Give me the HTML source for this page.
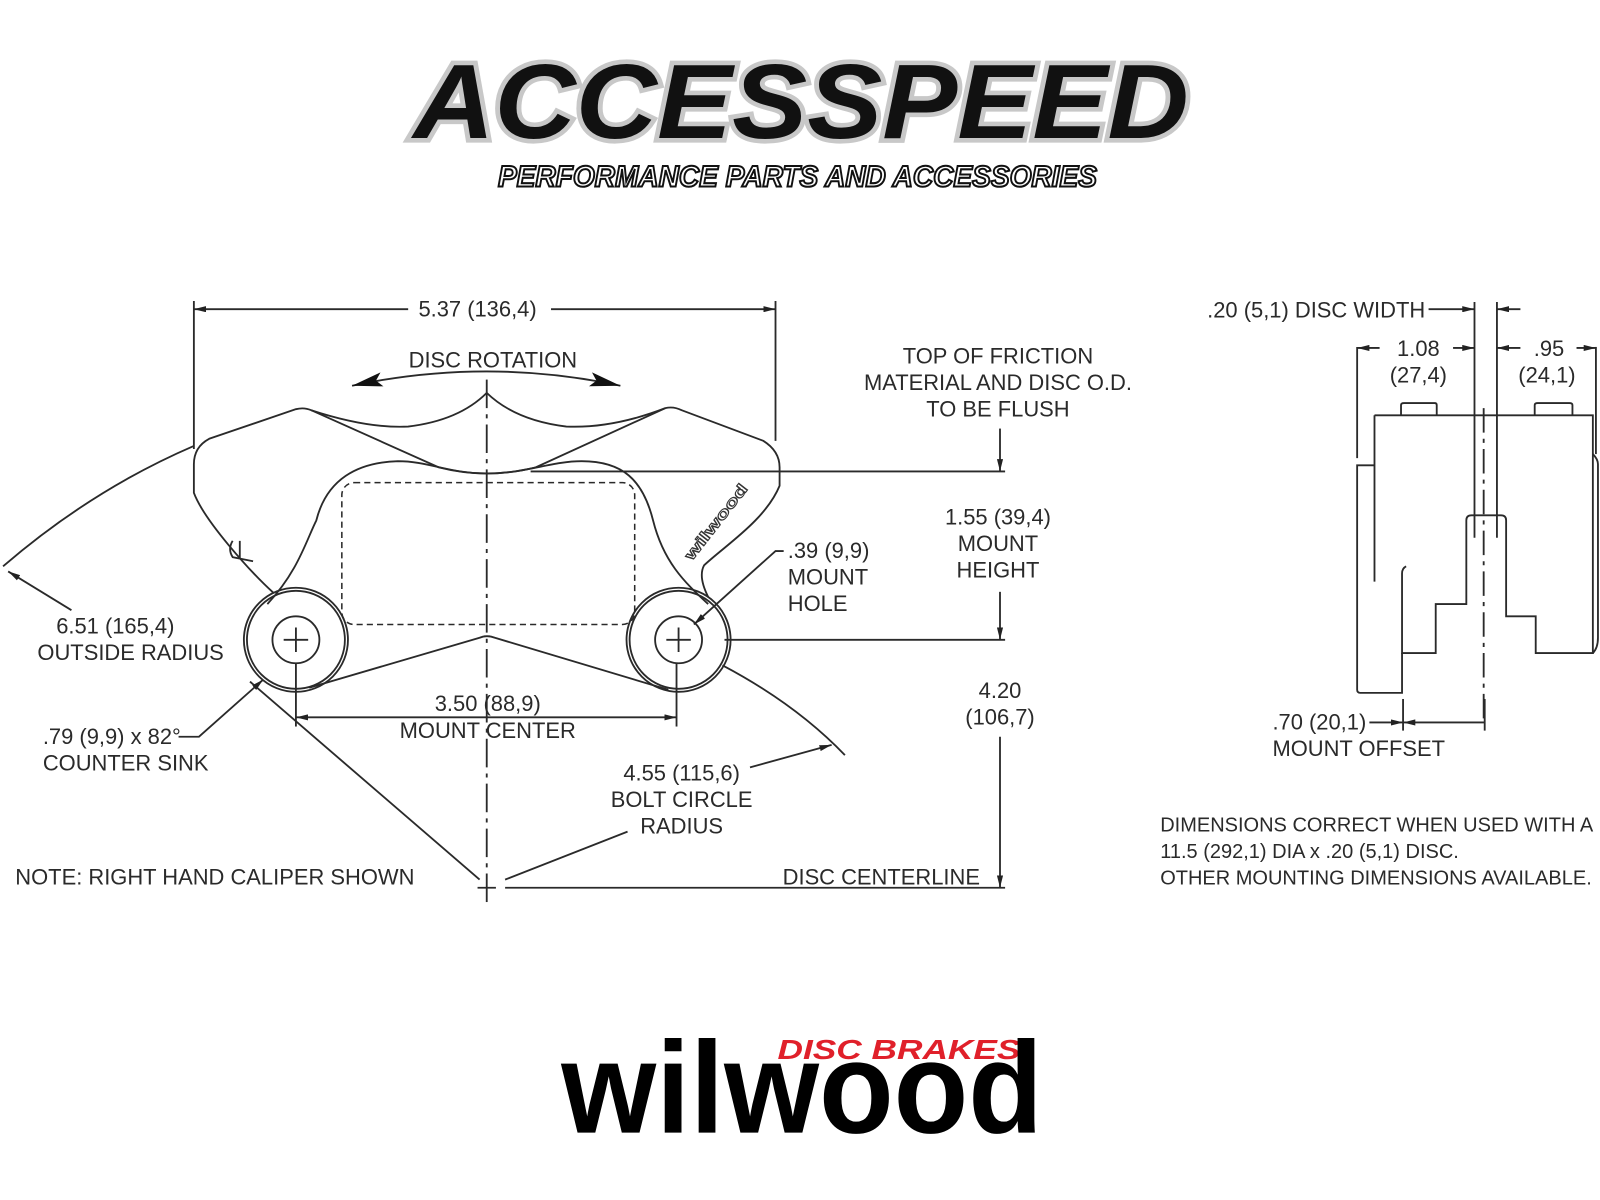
<!DOCTYPE html>
<html><head><meta charset="utf-8"><style>
html,body{margin:0;padding:0;background:#fff;}
svg{display:block;}
text{font-family:"Liberation Sans",Arial,sans-serif;fill:#2a2a2a;}
</style></head><body>
<svg width="1600" height="1200" viewBox="0 0 1568 1176" xmlns="http://www.w3.org/2000/svg">
<defs>
<marker id="a" viewBox="0 0 12 6" refX="12" refY="3" markerWidth="12" markerHeight="6" orient="auto-start-reverse" markerUnits="userSpaceOnUse"><path d="M0,0 L12,3 L0,6 z" fill="#222"/></marker>
<marker id="b" viewBox="0 0 30 14" refX="30" refY="7" markerWidth="30" markerHeight="14" orient="auto-start-reverse" markerUnits="userSpaceOnUse"><path d="M0,0 L30,7 L0,14 L6,7 z" fill="#111"/></marker>
</defs>

<text x="405" y="135" font-size="104" font-weight="bold" font-style="italic" textLength="760" lengthAdjust="spacingAndGlyphs" style="fill:#111;stroke:#c8c8c8;stroke-width:9;paint-order:stroke;">ACCESSPEED</text>
<text x="488" y="183" font-size="29" font-weight="bold" font-style="italic" textLength="587" lengthAdjust="spacingAndGlyphs" style="fill:#fff;stroke:#111;stroke-width:2;">PERFORMANCE PARTS AND ACCESSORIES</text>

<g fill="none" stroke="#2a2a2a" stroke-width="1.8">
<line x1="477" y1="372" x2="477" y2="885" stroke-dasharray="28,6,4,6"/>
<line x1="468" y1="870" x2="486" y2="870"/>

<path d="M268,581 C245,560 200,510 190,483 L190,455 Q190,438 205,430 L290,401 Q298,399 305,402 Q360,420 400,418 Q450,412 477,385 Q505,412 555,418 Q600,420 652,400 Q660,398 668,402 L748,432 Q764,442 764,458 L764,476 C750,510 710,535 690,554 Q684,565 694,585"/>
<path d="M303,674 L470,625 Q477,622 485,625 L655,676"/>
<path d="M262,592 C292,560 300,530 310,510 C320,470 350,453 390,452 C420,452 440,464 477,464 C515,464 540,452 570,452 C610,452 630,470 640,510 C650,550 670,570 694,592"/>
<path d="M305,402 L430,458 Q477,470 525,458 L652,400"/>
<rect x="335" y="473" width="287" height="139" rx="12" stroke-dasharray="6,4" stroke-width="1.5"/>
<circle cx="290" cy="627" r="48"/><circle cx="290" cy="627" r="51"/>
<circle cx="290" cy="627" r="23"/>
<circle cx="665" cy="627" r="48"/><circle cx="665" cy="627" r="51"/>
<circle cx="665" cy="627" r="23"/>
<path d="M278,627h24M290,615v24M653,627h24M665,615v24"/>
<path d="M228,530 q-5,8 0,16 l20,4 M235,530 v18"/>

<line x1="190" y1="295" x2="190" y2="440"/><line x1="760" y1="295" x2="760" y2="432"/>
<line x1="190" y1="303" x2="400" y2="303" marker-start="url(#a)"/>
<line x1="540" y1="303" x2="760" y2="303" marker-end="url(#a)"/>
<path d="M345,378 Q477,350 608,378" marker-start="url(#b)" marker-end="url(#b)"/>

<line x1="520" y1="462" x2="985" y2="462"/>
<line x1="710" y1="627" x2="985" y2="627"/>
<line x1="980" y1="420" x2="980" y2="462" marker-end="url(#a)"/>
<line x1="980" y1="580" x2="980" y2="627" marker-end="url(#a)"/>
<line x1="980" y1="722" x2="980" y2="870" marker-end="url(#a)"/>
<line x1="495" y1="870" x2="985" y2="870"/>

<line x1="290" y1="650" x2="290" y2="712"/><line x1="663" y1="650" x2="663" y2="712"/>
<line x1="290" y1="703" x2="663" y2="703" marker-start="url(#a)" marker-end="url(#a)"/>

<path d="M3,555 Q90,480 190,437"/>
<path d="M708,652 Q780,690 828,740"/>
<line x1="70" y1="598" x2="8" y2="560" marker-end="url(#a)"/>
<line x1="245" y1="668" x2="470" y2="862"/>
<line x1="495" y1="862" x2="615" y2="815"/>
<line x1="735" y1="752" x2="815" y2="730" marker-end="url(#a)"/>
<path d="M175,722 L195,722 L258,666" marker-end="url(#a)"/>
<path d="M768,540 L760,540 L680,612" marker-end="url(#a)"/>

<line x1="1330" y1="340" x2="1330" y2="449"/>
<line x1="1445" y1="296" x2="1445" y2="527"/>
<line x1="1467" y1="296" x2="1467" y2="527"/>
<line x1="1564" y1="340" x2="1564" y2="445"/>
<line x1="1454" y1="400" x2="1454" y2="710" stroke-dasharray="24,6,4,6"/>
<line x1="1400" y1="303" x2="1445" y2="303" marker-end="url(#a)"/>
<line x1="1490" y1="303" x2="1467" y2="303" marker-end="url(#a)"/>
<line x1="1330" y1="341" x2="1352" y2="341" marker-start="url(#a)"/>
<line x1="1424" y1="341" x2="1445" y2="341" marker-end="url(#a)"/>
<line x1="1467" y1="341" x2="1490" y2="341" marker-start="url(#a)"/>
<line x1="1545" y1="341" x2="1564" y2="341" marker-end="url(#a)"/>
<path d="M1347,407 H1561 V640 H1505 V604 H1476 V510 Q1476,505 1471,505 H1442 Q1437,505 1437,510 V592 H1407 V640 H1374 V562 Q1374,557 1378,555"/>
<path d="M1347,407 V570 M1347,456 H1330 V676 Q1330,679 1333,679 H1374 V640"/>
<path d="M1373,407 V397 Q1373,395 1376,395 H1406 Q1408,395 1408,397 V407 M1504,407 V397 Q1504,395 1507,395 H1538 Q1541,395 1541,397 V407"/>
<path d="M1561,445 Q1566,450 1566,455 V625 Q1566,635 1561,640"/>
<line x1="1375" y1="685" x2="1375" y2="716"/><line x1="1455" y1="685" x2="1455" y2="716"/>
<line x1="1342" y1="708" x2="1375" y2="708" marker-end="url(#a)"/>
<line x1="1455" y1="708" x2="1375" y2="708" marker-end="url(#a)"/>
</g>

<g font-size="21.5">
<text x="468" y="310" text-anchor="middle">5.37 (136,4)</text>
<text x="483" y="360" text-anchor="middle">DISC ROTATION</text>
<text x="978" y="356" text-anchor="middle">TOP OF FRICTION</text>
<text x="978" y="382" text-anchor="middle">MATERIAL AND DISC O.D.</text>
<text x="978" y="408" text-anchor="middle">TO BE FLUSH</text>
<text x="978" y="514" text-anchor="middle">1.55 (39,4)</text>
<text x="978" y="540" text-anchor="middle">MOUNT</text>
<text x="978" y="566" text-anchor="middle">HEIGHT</text>
<text x="980" y="684" text-anchor="middle">4.20</text>
<text x="980" y="710" text-anchor="middle">(106,7)</text>
<text x="772" y="547">.39 (9,9)</text>
<text x="772" y="573">MOUNT</text>
<text x="772" y="599">HOLE</text>
<text x="113" y="621" text-anchor="middle">6.51 (165,4)</text>
<text x="128" y="647" text-anchor="middle">OUTSIDE RADIUS</text>
<text x="478" y="697" text-anchor="middle">3.50 (88,9)</text>
<text x="478" y="723" text-anchor="middle">MOUNT CENTER</text>
<text x="42" y="729">.79 (9,9) x 82°</text>
<text x="42" y="755">COUNTER SINK</text>
<text x="668" y="765" text-anchor="middle">4.55 (115,6)</text>
<text x="668" y="791" text-anchor="middle">BOLT CIRCLE</text>
<text x="668" y="817" text-anchor="middle">RADIUS</text>
<text x="15" y="867">NOTE: RIGHT HAND CALIPER SHOWN</text>
<text x="767" y="867">DISC CENTERLINE</text>
<text x="1183" y="311">.20 (5,1) DISC WIDTH</text>
<text x="1390" y="349" text-anchor="middle">1.08</text>
<text x="1390" y="375" text-anchor="middle">(27,4)</text>
<text x="1518" y="349" text-anchor="middle">.95</text>
<text x="1516" y="375" text-anchor="middle">(24,1)</text>
<text x="1247" y="715">.70 (20,1)</text>
<text x="1247" y="741">MOUNT OFFSET</text>
<text x="1137" y="815" font-size="19.6">DIMENSIONS CORRECT WHEN USED WITH A</text>
<text x="1137" y="841" font-size="19.6">11.5 (292,1) DIA x .20 (5,1) DISC.</text>
<text x="1137" y="867" font-size="19.6">OTHER MOUNTING DIMENSIONS AVAILABLE.</text>
</g>
<text x="0" y="0" font-size="15" font-weight="bold" transform="translate(678,550) rotate(-52)" textLength="90" lengthAdjust="spacingAndGlyphs" style="fill:#fff;stroke:#333;stroke-width:1;">wilwood</text>

<text x="762" y="1038" font-size="27" font-weight="bold" font-style="italic" textLength="238" lengthAdjust="spacingAndGlyphs" style="fill:#e0202a;">DISC BRAKES</text>
<text x="550" y="1110" font-size="128" font-weight="bold" textLength="472" lengthAdjust="spacingAndGlyphs" style="fill:#000;">wilwood</text>
</svg>
</body></html>
